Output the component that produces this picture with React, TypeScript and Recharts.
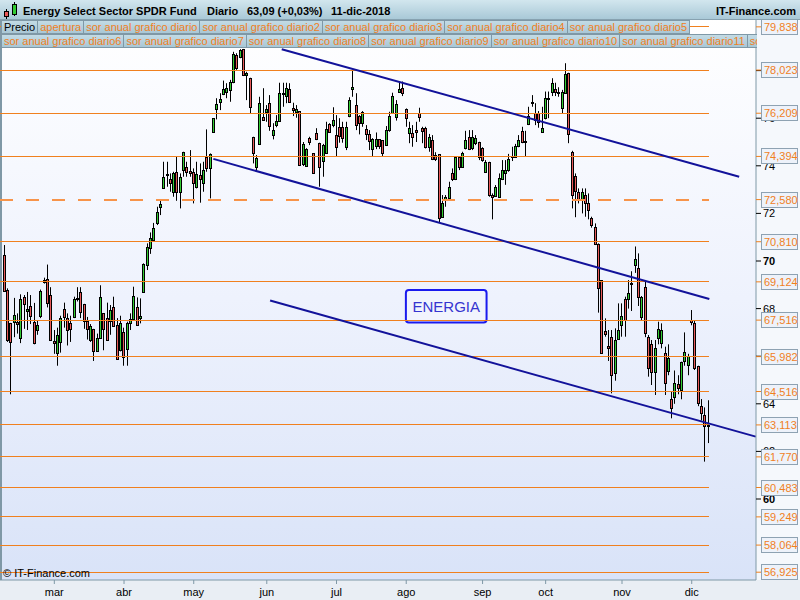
import { ComposedChart, Bar, XAxis, YAxis, ReferenceLine, ReferenceArea } from "recharts";

const FONT = "'Liberation Sans', Arial, sans-serif";
const ORANGE = "#f0801e";
const NAVY = "#12129a";

// daily candles, 7-feb-2018 .. 11-dic-2018 (one per trading day)
const OPEN = [
  70.25, 68.8, 67.4, 67.44, 67.45, 66.76, 68.5, 67.9, 68.1, 67.44, 67.1, 67.7, 69.1, 69.25, 68.57, 66.65, 66.15, 66.6, 68.0, 67.6,
  67.4, 67.65, 68.4, 68.7, 68.2, 67.5, 66.7, 67.15, 66.2, 66.75, 67.8, 67.6, 67.5, 68.05, 67.3, 66.25, 67.0, 66.3, 67.4, 67.55,
  68.08, 67.59, 68.71, 69.83, 70.53, 70.88, 71.58, 72.28, 73.05, 73.62, 73.43, 72.91, 73.73, 72.91, 73.82, 73.94, 73.78, 73.75, 73.1, 73.61,
  73.29, 74.38, 73.89, 75.41, 76.37, 76.69, 77.0, 77.11, 77.18, 77.51, 78.66, 78.56, 78.9, 77.82, 77.7, 75.2, 73.96, 74.92, 76.04, 76.27,
  76.63, 75.29, 75.71, 75.88, 77.01, 76.93, 77.21, 76.41, 76.27, 76.3, 74.07, 73.99, 75.16, 74.52, 75.37, 74.94, 74.21, 74.52, 75.74, 75.71,
  75.29, 75.62, 75.62, 74.81, 76.09, 77.23, 76.55, 76.09, 75.81, 75.55, 75.32, 74.69, 74.83, 75.11, 75.08, 74.87, 75.5, 76.23, 76.06, 77.12,
  77.28, 76.37, 75.39, 75.37, 75.5, 76.2, 75.57, 75.57, 74.78, 75.08, 74.45, 74.48, 71.86, 72.56, 72.63, 73.68, 73.43, 74.36, 73.96, 74.73,
  75.2, 74.73, 74.94, 75.01, 74.73, 73.75, 74.17, 72.77, 72.73, 72.7, 73.43, 73.7, 73.82, 74.38, 74.38, 74.83, 75.46, 75.06, 75.74, 76.66,
  76.23, 76.2, 75.43, 76.0, 76.84, 77.12, 77.21, 77.1, 76.41, 77.05, 77.91, 74.59, 73.57, 72.91, 72.56, 72.77, 72.45, 71.79, 71.44, 70.71,
  69.2, 67.07, 66.43, 66.82, 65.31, 66.71, 67.31, 68.39, 68.39, 69.09, 69.83, 69.69, 67.63, 68.92, 66.82, 66.51, 65.35, 66.75, 66.54, 66.12,
  65.39, 64.19, 64.3, 64.83, 64.58, 65.81, 65.63, 67.52, 67.4, 65.59, 63.9, 63.55, 63.05,
];
const HIGH = [
  70.67, 68.85, 67.4, 68.45, 67.8, 68.6, 68.57, 68.7, 68.57, 68.24, 67.5, 68.8, 69.3, 69.85, 68.9, 67.1, 67.2, 67.7, 68.25, 67.8,
  67.7, 68.5, 68.9, 68.9, 68.2, 67.65, 67.35, 67.15, 66.95, 68.98, 67.8, 68.25, 68.15, 68.5, 67.6, 67.7, 67.2, 67.45, 67.8, 68.92,
  68.47, 68.43, 69.9, 70.74, 71.2, 71.6, 72.28, 72.59, 74.17, 74.17, 73.68, 73.75, 74.38, 73.68, 74.59, 74.17, 74.66, 73.89, 74.17, 74.1,
  74.17, 75.53, 74.52, 76.0, 76.84, 77.05, 77.58, 77.47, 77.61, 78.79, 78.73, 78.9, 78.91, 77.95, 77.7, 75.22, 74.45, 76.9, 77.26, 76.55,
  76.97, 75.79, 76.13, 77.49, 77.49, 77.49, 77.47, 76.65, 76.55, 76.3, 75.0, 74.74, 75.22, 74.52, 75.58, 74.97, 74.92, 75.85, 75.79, 76.46,
  76.13, 76.0, 75.85, 75.85, 76.88, 78.03, 77.05, 76.13, 76.3, 75.71, 75.5, 75.16, 75.4, 75.11, 75.08, 75.67, 76.27, 77.07, 76.76, 77.49,
  77.54, 76.41, 75.85, 75.71, 75.85, 76.44, 75.64, 75.64, 75.34, 75.29, 74.57, 74.48, 72.77, 72.77, 73.33, 73.89, 74.38, 74.38, 74.59, 75.47,
  75.5, 75.5, 75.29, 75.01, 74.78, 74.24, 74.17, 72.84, 73.19, 73.68, 74.24, 74.24, 74.5, 74.8, 74.92, 75.29, 75.64, 75.47, 76.48, 76.97,
  76.63, 76.3, 76.48, 77.12, 77.12, 77.68, 77.49, 77.3, 77.19, 78.31, 77.91, 74.63, 73.68, 73.05, 73.05, 73.05, 72.84, 71.86, 71.58, 70.74,
  69.2, 67.59, 67.1, 67.1, 67.17, 68.22, 68.22, 68.5, 69.2, 69.57, 70.61, 70.32, 68.53, 69.15, 66.89, 66.68, 66.68, 67.45, 67.38, 66.4,
  66.5, 64.51, 65.4, 65.2, 65.77, 67.0, 66.1, 67.94, 67.5, 65.6, 64.2, 63.85, 64.15,
];
const LOW = [
  68.7, 66.6, 64.4, 66.8, 66.95, 66.55, 67.15, 67.1, 67.35, 66.5, 66.9, 67.6, 69.05, 68.05, 66.7, 66.1, 65.6, 66.15, 67.2, 66.45,
  66.6, 67.6, 68.3, 67.6, 67.15, 66.7, 66.6, 65.8, 66.2, 66.75, 66.25, 66.7, 66.9, 67.25, 65.9, 66.2, 65.6, 65.6, 67.1, 67.52,
  67.27, 67.38, 68.67, 69.62, 70.3, 70.81, 71.51, 71.93, 73.05, 73.12, 72.91, 72.7, 72.53, 72.21, 73.54, 73.54, 73.54, 72.42, 73.05, 72.45,
  72.91, 73.75, 72.63, 75.39, 75.95, 76.34, 76.97, 76.84, 76.69, 77.47, 78.03, 78.52, 77.77, 76.76, 76.2, 74.1, 73.77, 74.92, 75.92, 75.85,
  75.47, 75.11, 75.62, 75.85, 76.48, 76.63, 76.65, 76.09, 76.02, 73.99, 73.99, 73.96, 74.87, 73.68, 75.08, 73.12, 73.54, 74.5, 75.41, 75.62,
  74.38, 74.97, 74.97, 74.66, 76.04, 76.9, 75.5, 75.32, 75.64, 75.08, 74.66, 74.38, 74.7, 74.71, 74.38, 74.83, 75.43, 76.2, 75.9, 77.1,
  76.93, 75.64, 74.95, 74.8, 75.0, 75.85, 74.95, 74.73, 74.59, 74.24, 74.2, 71.61, 71.84, 72.28, 72.59, 73.36, 73.4, 73.82, 73.91, 74.69,
  74.66, 74.66, 74.87, 74.24, 74.17, 73.71, 72.7, 71.75, 72.7, 72.7, 73.4, 73.2, 73.75, 74.2, 74.38, 74.78, 74.95, 74.41, 75.71, 76.48,
  75.71, 75.6, 75.4, 75.95, 76.0, 76.93, 76.93, 76.9, 76.2, 77.02, 74.95, 72.21, 71.84, 72.42, 72.0, 71.86, 71.75, 71.4, 70.67, 67.83,
  66.1, 66.82, 65.8, 64.44, 64.97, 66.68, 66.82, 66.82, 68.0, 67.9, 69.5, 68.11, 67.5, 66.8, 65.14, 64.79, 64.37, 66.5, 66.33, 64.37,
  65.2, 63.39, 64.0, 64.4, 64.19, 65.6, 65.2, 67.3, 65.42, 63.9, 63.3, 61.57, 62.35,
];
const CLOSE = [
  68.74, 66.7, 66.6, 67.73, 67.35, 68.4, 68.2, 68.0, 67.7, 66.55, 67.3, 68.75, 69.2, 68.25, 66.7, 66.55, 66.9, 67.6, 67.65, 67.1,
  67.15, 68.4, 68.45, 67.85, 67.5, 67.15, 67.25, 66.2, 66.75, 68.5, 67.15, 66.7, 67.95, 67.25, 65.9, 67.4, 65.95, 67.4, 67.55, 68.53,
  67.31, 67.69, 69.87, 70.58, 70.95, 71.37, 72.07, 72.38, 73.54, 73.66, 73.26, 73.71, 72.91, 73.54, 74.57, 73.75, 73.69, 73.29, 73.64, 73.43,
  73.82, 73.89, 74.48, 76.0, 76.58, 76.79, 77.21, 77.26, 77.53, 78.7, 78.1, 78.87, 77.82, 77.89, 76.48, 74.53, 74.31, 76.63, 75.92, 76.37,
  75.67, 75.5, 75.88, 77.07, 77.07, 77.28, 76.69, 76.34, 76.37, 74.03, 74.92, 74.69, 75.0, 73.71, 75.13, 73.96, 74.87, 75.53, 75.43, 75.92,
  74.78, 75.25, 75.16, 75.62, 76.76, 77.33, 75.71, 75.79, 76.25, 75.32, 75.04, 75.11, 75.11, 74.83, 74.52, 75.5, 76.09, 76.93, 76.6, 77.21,
  77.07, 76.0, 75.57, 75.22, 75.43, 76.04, 75.48, 74.8, 75.22, 74.27, 74.27, 71.79, 72.42, 72.7, 73.12, 73.43, 74.36, 73.94, 74.52, 75.08,
  74.69, 75.2, 75.16, 74.38, 74.24, 74.17, 72.77, 72.7, 73.12, 73.47, 73.82, 73.82, 74.27, 74.41, 74.83, 75.08, 75.01, 75.01, 76.09, 76.69,
  75.92, 75.85, 75.57, 76.84, 76.79, 77.47, 77.12, 77.05, 77.09, 77.86, 75.34, 72.77, 72.95, 72.56, 72.91, 72.45, 72.14, 71.51, 70.71, 68.85,
  66.12, 66.93, 66.33, 65.21, 66.68, 67.1, 67.69, 67.52, 68.67, 69.03, 70.07, 68.5, 68.47, 66.99, 65.49, 65.35, 66.33, 67.13, 67.1, 64.89,
  65.91, 63.81, 64.86, 64.65, 65.74, 66.16, 66.0, 67.45, 65.49, 64.03, 63.6, 63.05, 63.09,
];

// "sor anual" levels drawn as horizontal lines with boxed labels on the price axis
const LEVELS = [79.838, 78.023, 76.209, 74.394, 72.58, 70.81, 69.124, 67.516, 65.982, 64.516, 63.113, 61.77, 60.483, 59.249, 58.064, 56.925];
const DASHED_LEVEL = 72.58;
const LEVEL_END = 212.3;
const PRICE_TICKS = [60, 62, 64, 66, 68, 70, 72, 74, 76, 78];
const BOLD_TICKS = [60, 70];

const MONTHS = ["mar", "abr", "may", "jun", "jul", "ago", "sep", "oct", "nov", "dic"];
const MONTH_IDX = [15, 36, 57, 79, 100, 121, 144, 163, 186, 207];

// channel lines, [start, end] in (day index, price)
const TRENDS = [
  [{ x: 83.5, y: 78.9 }, { x: 221.3, y: 73.54 }],
  [{ x: 62.9, y: 74.29 }, { x: 212.3, y: 68.4 }],
  [{ x: 80.0, y: 68.34 }, { x: 226.3, y: 62.62 }],
];

const NOTE = { text: "ENERGIA", x1: 120.9, x2: 145.2, y1: 67.42, y2: 68.78 };

const X_MIN = -1.36;
const X_MAX = 226.36;
const Y_MIN = 56.597;
const Y_MAX = 80.252;

const LEGEND_ROW1 = [
  "Precio",
  "apertura",
  "sor anual grafico diario",
  "sor anual grafico diario2",
  "sor anual grafico diario3",
  "sor anual grafico diario4",
  "sor anual grafico diario5",
];
const LEGEND_ROW2 = [
  "sor anual grafico diario6",
  "sor anual grafico diario7",
  "sor anual grafico diario8",
  "sor anual grafico diario9",
  "sor anual grafico diario10",
  "sor anual grafico diario11",
  "so",
];

const data = OPEN.map((o, i) => ({ i, o, h: HIGH[i], l: LOW[i], c: CLOSE[i] }));

const fmt = (v: number) => v.toFixed(3).replace(".", ",");

function Candle(props: any) {
  const { x, y, width, height, payload } = props;
  if (!payload || height == null) return null;
  const { o, h, l, c } = payload;
  const span = h - l || 0.0001;
  const yOf = (v: number) => y + ((h - v) / span) * height;
  const k = Math.floor(x + width / 2);
  const top = Math.round(yOf(Math.max(o, c)));
  const bot = Math.round(yOf(Math.min(o, c)));
  const up = c >= o;
  return (
    <g>
      <line x1={k + 0.5} x2={k + 0.5} y1={y} y2={y + height} stroke="#000" strokeWidth={1} />
      <rect
        x={k - 0.5}
        y={top + 0.5}
        width={2}
        height={Math.max(1, bot - top)}
        fill={up ? "#33cc33" : "#e85a5a"}
        stroke="#000"
        strokeWidth={1}
      />
    </g>
  );
}

function PriceTick(props: any) {
  const { x, y, payload } = props;
  const v = payload.value;
  if (LEVELS.includes(v)) {
    return (
      <g>
        <line x1={x} x2={x + 6} y1={y} y2={y} stroke={ORANGE} />
        <rect x={x + 5.5} y={Math.round(y) - 7.5} width={36} height={15} fill="#edf2fa" stroke="#8ea2b2" />
        <text x={x + 8} y={y + 4} fontSize={11} fontFamily={FONT} fill={ORANGE}>
          {fmt(v)}
        </text>
      </g>
    );
  }
  return (
    <g>
      <line x1={x} x2={x + 5} y1={y} y2={y} stroke="#000" />
      <text
        x={x + 7}
        y={y + 4}
        fontSize={11}
        fontFamily={FONT}
        fontWeight={BOLD_TICKS.includes(v) ? 700 : 400}
        fill="#000"
      >
        {v}
      </text>
    </g>
  );
}

function NoteBox(props: any) {
  const { x, y, width, height } = props;
  return <rect x={x} y={y} width={width} height={height} rx={3} fill="#f1f4fd" stroke="#1a1aee" strokeWidth={2} />;
}

function HeaderIcon() {
  return (
    <svg width={16} height={18} style={{ position: "absolute", left: 2, top: 1 }}>
      <line x1={4.5} x2={4.5} y1={8} y2={18} stroke="#000" />
      <rect x={2.5} y={10.5} width={4} height={5} fill="#e85a5a" stroke="#000" />
      <line x1={12.5} x2={12.5} y1={1} y2={15} stroke="#000" />
      <rect x={10.5} y={3.5} width={4} height={10} fill="#33cc33" stroke="#000" />
    </svg>
  );
}

function LegendRow({ items, top }: { items: string[]; top: number }) {
  return (
    <div
      style={{
        position: "absolute",
        left: 1,
        top,
        width: 756,
        height: 14,
        display: "flex",
        overflow: "hidden",
        whiteSpace: "nowrap",
      }}
    >
      {items.map((t, idx) => (
        <div
          key={idx}
          style={{
            flex: "none",
            height: 12,
            lineHeight: "12px",
            padding: "0 2px",
            border: "1px solid #7f98a6",
            marginRight: -1,
            background: "linear-gradient(#c3dbe5, #a9c7d5)",
            color: t === "Precio" ? "#000" : ORANGE,
            fontSize: 11,
          }}
        >
          {t}
        </div>
      ))}
    </div>
  );
}

export default function App() {
  return (
    <div
      style={{
        position: "absolute",
        left: 0,
        top: 0,
        width: 800,
        height: 600,
        overflow: "hidden",
        background: "#f5f8fc",
        fontFamily: FONT,
      }}
    >
      <div
        style={{
          position: "absolute",
          left: 0,
          top: 17,
          width: 756,
          height: 563,
          background: "linear-gradient(#ffffff, #eef2fd 50%, #d9e3f8)",
          borderLeft: "2px solid #7f98a6",
          boxSizing: "border-box",
        }}
      />
      <div style={{ position: "absolute", left: 0, top: 580, width: 800, height: 20, background: "#e9eef4" }} />

      <div style={{ position: "absolute", left: 0, top: 0 }}>
        <ComposedChart width={800} height={600} data={data} margin={{ top: 17, right: 0, bottom: 0, left: 0 }}>
          <XAxis
            type="number"
            dataKey="i"
            domain={[X_MIN, X_MAX]}
            allowDataOverflow
            ticks={MONTH_IDX}
            interval={0}
            tickFormatter={(v: number) => MONTHS[MONTH_IDX.indexOf(v)]}
            tick={{ fontSize: 11, fontFamily: FONT, fill: "#000" }}
            tickSize={4}
            tickMargin={4}
            tickLine={{ stroke: "#7f98a6" }}
            axisLine={{ stroke: "#7f98a6" }}
            height={20}
          />
          <YAxis
            orientation="right"
            type="number"
            domain={[Y_MIN, Y_MAX]}
            allowDataOverflow
            ticks={[...PRICE_TICKS, ...LEVELS]}
            interval={0}
            tick={<PriceTick />}
            tickSize={0}
            tickMargin={0}
            tickLine={false}
            axisLine={{ stroke: "#7f98a6" }}
            width={44}
          />
          {LEVELS.map((lv) => (
            <ReferenceLine
              key={lv}
              segment={[
                { x: X_MIN, y: lv },
                { x: LEVEL_END, y: lv },
              ]}
              stroke={lv === DASHED_LEVEL ? "#f7944a" : ORANGE}
              strokeWidth={lv === DASHED_LEVEL ? 2 : 1}
              strokeDasharray={lv === DASHED_LEVEL ? "13 13" : undefined}
              shapeRendering="crispEdges"
              ifOverflow="hidden"
            />
          ))}
          <Bar dataKey={(d: any) => [d.l, d.h]} barSize={3} shape={<Candle />} isAnimationActive={false} />
          {TRENDS.map((seg, idx) => (
            <ReferenceLine key={`t${idx}`} segment={seg} stroke={NAVY} strokeWidth={2} ifOverflow="hidden" />
          ))}
          <ReferenceArea
            x1={NOTE.x1}
            x2={NOTE.x2}
            y1={NOTE.y1}
            y2={NOTE.y2}
            shape={<NoteBox />}
            label={{ value: NOTE.text, position: "center", fill: "#3535d0", fontSize: 15, fontFamily: FONT }}
          />
        </ComposedChart>
      </div>

      <div
        style={{
          position: "absolute",
          left: 0,
          top: 0,
          width: 800,
          height: 20,
          background: "linear-gradient(#d2e6ee, #a9c9d7)",
          borderBottom: "1px solid #87a2b0",
          boxSizing: "border-box",
          fontSize: 11,
          fontWeight: 700,
          color: "#000",
          lineHeight: "20px",
        }}
      >
        <HeaderIcon />
        <span style={{ position: "absolute", left: 23, top: 1 }}>Energy Select Sector SPDR Fund</span>
        <span style={{ position: "absolute", left: 207, top: 1 }}>Diario</span>
        <span style={{ position: "absolute", left: 247, top: 1 }}>63,09 (+0,03%)</span>
        <span style={{ position: "absolute", left: 331, top: 1 }}>11-dic-2018</span>
        <span style={{ position: "absolute", right: 4, top: 1 }}>IT-Finance.com</span>
      </div>
      <LegendRow items={LEGEND_ROW1} top={20} />
      <LegendRow items={LEGEND_ROW2} top={34} />

      <div style={{ position: "absolute", left: 3, top: 567, fontSize: 11, color: "#000" }}>© IT-Finance.com</div>
    </div>
  );
}
